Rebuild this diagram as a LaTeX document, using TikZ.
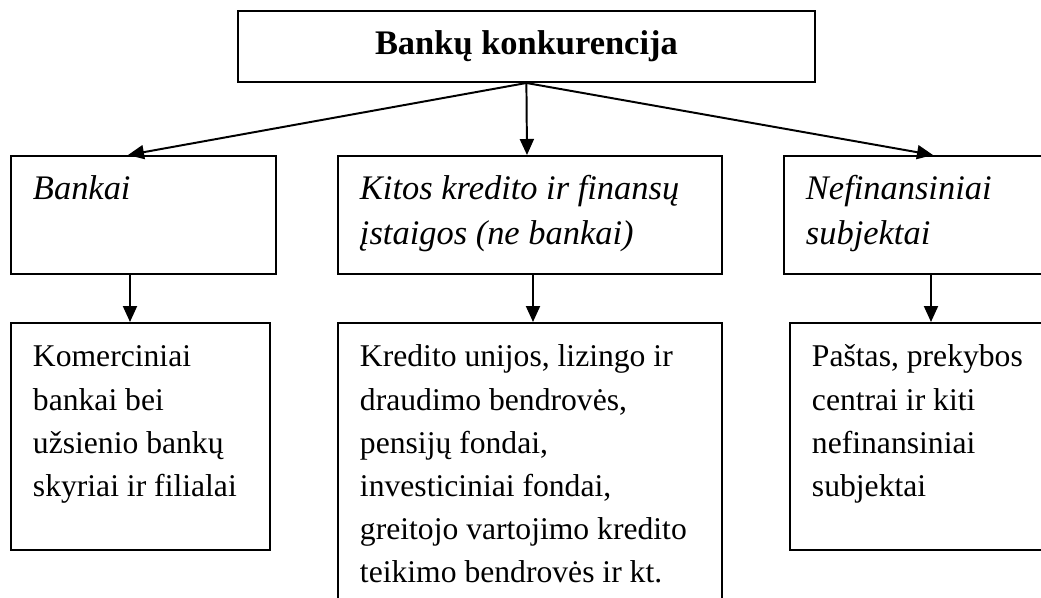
\documentclass[tikz,border=0pt]{standalone}
\usepackage{fontspec}
\setmainfont{Liberation Serif}
\usetikzlibrary{arrows.meta}
\newcommand{\diagfont}{\fontsize{22.5pt}{30.6pt}\selectfont}
\newcommand{\headfont}{\fontsize{24.5pt}{31.9pt}\selectfont}
\begin{document}
\begin{tikzpicture}[
    >={Triangle[length=0.4cm,width=0.35cm]},
    font=\diagfont,
    % Stiliai
    title/.style={draw, line width=1.4pt, minimum width=14.43cm, minimum height=1.78cm, font=\headfont\bfseries},
    box/.style={draw, line width=1.4pt, anchor=north west, inner sep=0.55cm, align=flush left, text height=0.55cm},
    group/.style={box, font=\headfont\itshape, text depth=1.3cm},
    arrow/.style={->, line width=1.4pt}
]
\useasboundingbox (0,0) rectangle (26.025,-14.95);
\clip (0,0) rectangle (26.025,-14.95);

% --- VIRŠUS ---
\node[title] (title) at (13.16,-1.16) {Bankų konkurencija};

% --- ANTRA EILUTĖ ---
\node[group, text width=5.525cm] (bankai) at (0.25,-3.875) {Bankai};
\node[group, text width=8.5cm] (kitos) at (8.425,-3.875) {Kitos kredito ir finansų\\ įstaigos (ne bankai)};
\node[group, text width=5.825cm] (nefin) at (19.575,-3.875) {Nefinansiniai\\ subjektai};

% --- TREČIA EILUTĖ ---
\node[box, text width=5.375cm, text depth=4.025cm] (komerc) at (0.25,-8.05) {Komerciniai\\ bankai bei\\ užsienio bankų\\ skyriai ir filialai};
\node[box, text width=8.5cm, text depth=5.65cm] (kredito) at (8.425,-8.05) {Kredito unijos, lizingo ir\\ draudimo bendrovės,\\ pensijų fondai,\\ investiciniai fondai,\\ greitojo vartojimo kredito\\ teikimo bendrovės ir kt.};
\node[box, text width=5.675cm, text depth=4.025cm] (pastas) at (19.725,-8.05) {Paštas, prekybos\\ centrai ir kiti\\ nefinansiniai\\ subjektai};

% Rodyklės
\draw[arrow] (title.south) -- ([xshift=2.95cm]bankai.north west);
\draw[arrow] (title.south) -- ([xshift=4.75cm]kitos.north west);
\draw[arrow] (title.south) -- ([xshift=3.75cm]nefin.north west);
\draw[arrow] ([xshift=3cm]bankai.south west) -- ([xshift=3cm]komerc.north west);
\draw[arrow] ([xshift=4.9cm]kitos.south west) -- ([xshift=4.9cm]kredito.north west);
\draw[arrow] ([xshift=3.7cm]nefin.south west) -- ([xshift=3.55cm]pastas.north west);

\end{tikzpicture}
\end{document}
